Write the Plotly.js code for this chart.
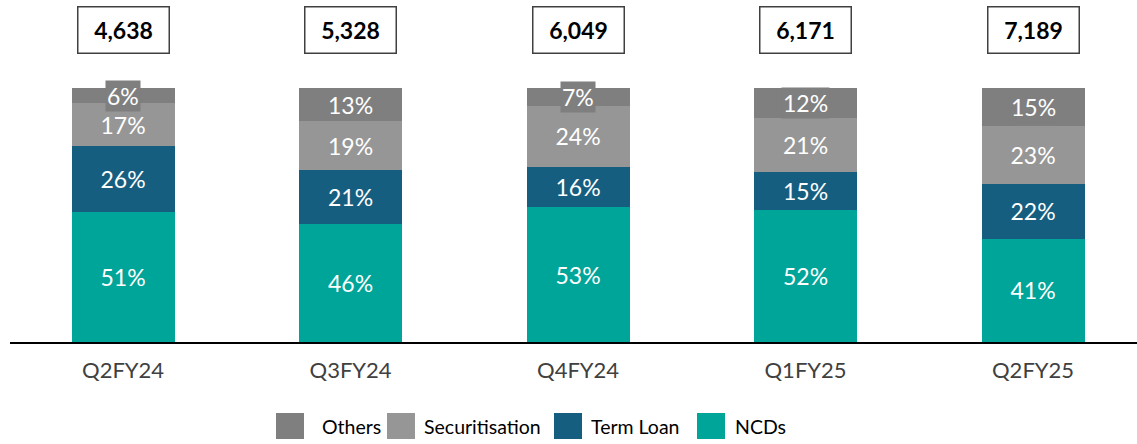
<!DOCTYPE html>
<html><head><meta charset="utf-8">
<script src="https://cdn.plot.ly/plotly-3.0.1.min.js"></script>
<style>html,body{margin:0;padding:0;background:#fff}#c{width:1137px;height:444px}</style>
</head><body><div id="c"></div>
<script>
const quarters = ['Q2FY24','Q3FY24','Q4FY24','Q1FY25','Q2FY25'];
const totals = ['4,638','5,328','6,049','6,171','7,189'];
const ncds = [51,46,53,52,41];
const termLoan = [26,21,16,15,22];
const securitisation = [17,19,24,21,23];
const others = [6,13,7,12,15];

const colors = {ncds:'#00a59a', term:'#165e80', sec:'#969696', oth:'#7f7f7f'};
const FONT = 'Lato, "Liberation Sans", sans-serif';
const LABEL_SIZE = 23;

function barTrace(name, vals, color, showText){
  return {
    type:'bar', name:name, x:quarters, y:vals,
    marker:{color:color, line:{width:0}},
    text: showText ? vals.map(v=>v+'%') : vals.map(()=> ''),
    textposition:'inside', insidetextanchor:'middle', constraintext:'none',
    textfont:{family:FONT, size:LABEL_SIZE, color:'#ffffff'},
    hoverinfo:'x+y+name', showlegend:false
  };
}

const traces = [
  barTrace('NCDs', ncds, colors.ncds, true),
  barTrace('Term Loan', termLoan, colors.term, true),
  barTrace('Securitisation', securitisation, colors.sec, true),
  barTrace('Others', others, colors.oth, false)
];

const L = 10, W = 1127, B = 342, H = 254;
const px = p => (p-L)/W, py = p => (B-p)/H;

const annotations = [];
// Totals boxes
quarters.forEach((q,i)=>{
  annotations.push({x:q, y:py(30), xref:'x', yref:'paper', text:'<b>'+totals[i]+'</b>',
    showarrow:false, font:{family:FONT, size:23, color:'#000'},
    bordercolor:'#404040', borderwidth:1.5, bgcolor:'#fff', width:88, height:43,
    xanchor:'center', yanchor:'middle'});
});
// Others labels (with background box like reference)
quarters.forEach((q,i)=>{
  const s = ncds[i]+termLoan[i]+securitisation[i]+others[i];
  const base = (ncds[i]+termLoan[i]+securitisation[i])/s*100;
  const mid = base + others[i]/s*100/2;
  annotations.push({x:q, y:mid, xref:'x', yref:'y', text:others[i]+'%', showarrow:false,
    font:{family:FONT, size:LABEL_SIZE, color:'#fff'}, bgcolor:colors.oth, borderpad:1,
    xanchor:'center', yanchor:'middle'});
});

// Custom legend
const legendItems = [
  {name:'Others', color:colors.oth, sq:276, tx:322},
  {name:'Securitisation', color:colors.sec, sq:387, tx:424},
  {name:'Term Loan', color:colors.term, sq:554, tx:591},
  {name:'NCDs', color:colors.ncds, sq:697, tx:735}
];
const shapes = [];
legendItems.forEach(it=>{
  shapes.push({type:'rect', xref:'paper', yref:'paper', x0:px(it.sq), x1:px(it.sq+28),
    y0:py(439), y1:py(413), fillcolor:it.color, line:{width:0}});
  annotations.push({xref:'paper', yref:'paper', x:px(it.tx-2), y:py(426), text:it.name,
    showarrow:false, xanchor:'left', yanchor:'middle', font:{family:FONT, size:19.5, color:'#000'}});
});

const layout = {
  width:1137, height:444,
  margin:{l:10, r:0, t:88, b:102},
  barmode:'stack', barnorm:'percent', bargap:0.547,
  paper_bgcolor:'#fff', plot_bgcolor:'#fff',
  showlegend:false,
  xaxis:{type:'category', range:[-0.497,4.457], showline:true, linecolor:'#000', linewidth:1.5,
    ticks:'', showgrid:false, zeroline:false, ticklabelstandoff:8,
    tickfont:{family:FONT, size:22, color:'#404040'}},
  yaxis:{range:[0,100], visible:false, showgrid:false, zeroline:false},
  annotations:annotations, shapes:shapes
};
Plotly.newPlot('c', traces, layout, {displayModeBar:false, staticPlot:true});
</script></body></html>
